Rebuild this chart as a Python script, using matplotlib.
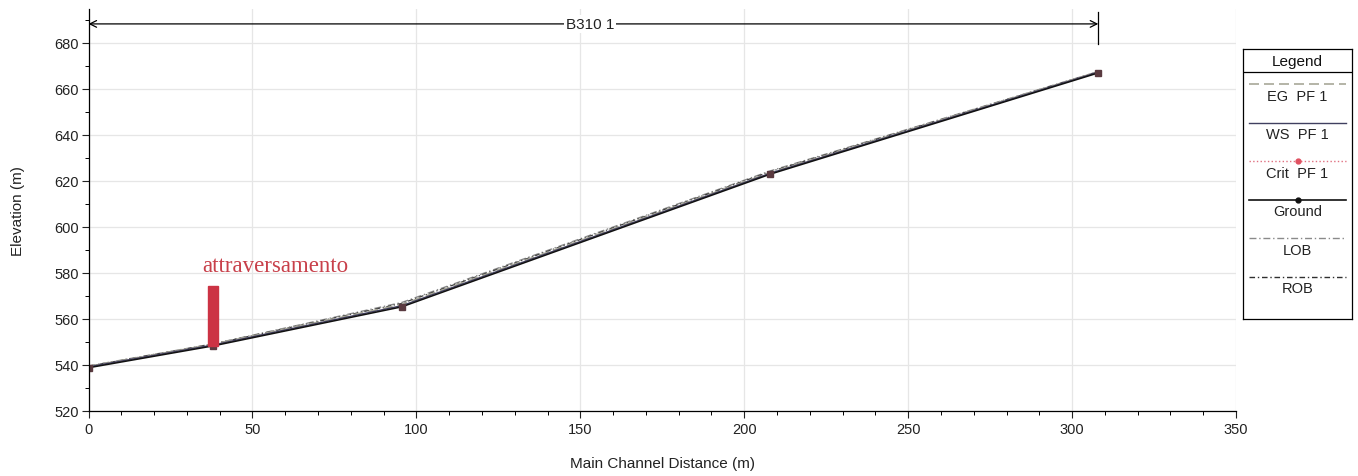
import matplotlib
matplotlib.use("Agg")
import matplotlib.pyplot as plt
from matplotlib.ticker import MultipleLocator

# Longitudinal profile data (reach B310, river 1)
station = [0.0, 38.0, 95.6, 208.0, 308.0]
ground = [538.8, 548.3, 565.3, 623.0, 667.0]
ws_pf1 = [539.2, 548.7, 565.8, 623.4, 667.3]
eg_pf1 = [539.4, 549.0, 566.3, 623.7, 667.5]
crit_pf1 = [539.1, 548.6, 565.6, 623.3, 667.2]
lob = [539.6, 549.2, 567.2, 624.4, 667.6]
rob = [539.5, 549.1, 566.8, 624.1, 667.5]

crossing_station = 38.0
crossing_top = 574.5
crossing_label = "attraversamento"
reach_label = "B310 1"
legend_labels = ["EG  PF 1", "WS  PF 1", "Crit  PF 1", "Ground", "LOB", "ROB"]

W, H = 1358, 477
fig = plt.figure(figsize=(W / 100, H / 100), dpi=100)
plt.rcParams['font.family'] = ['Liberation Sans', 'DejaVu Sans']

ax = fig.add_axes([88.5 / W, 1 - 412 / H, (1236 - 88.5) / W, (412 - 9.5) / H])
ax.set_xlim(0, 350)
ax.set_ylim(520, 695)

for s in ('top', 'right'):
    ax.spines[s].set_visible(False)
for s in ('left', 'bottom'):
    ax.spines[s].set_linewidth(0.9)

ax.xaxis.set_major_locator(MultipleLocator(50))
ax.xaxis.set_minor_locator(MultipleLocator(10))
ax.set_yticks(range(520, 681, 20))
ax.yaxis.set_minor_locator(MultipleLocator(10))
ax.tick_params(which='major', direction='out', length=5, width=0.8,
               labelsize=10.5, colors='#222222')
ax.tick_params(axis='y', which='major', pad=2)
ax.tick_params(axis='x', which='major', pad=3)
ax.tick_params(which='minor', direction='out', length=3, width=0.7)
ax.grid(True, which='major', color='#e6e6e6', lw=0.9)
ax.set_axisbelow(True)

ax.set_xlabel("Main Channel Distance (m)", fontsize=11, color='#222222', labelpad=14)
ax.set_ylabel("Elevation (m)", fontsize=11, color='#222222', labelpad=21)

# Profile lines
ax.plot(station, lob, color='#8a8a8a', lw=1.0, ls=(0, (5, 2, 1, 2)))
ax.plot(station, rob, color='#404040', lw=0.9, ls=(0, (4, 2, 1, 2)))
ax.plot(station, eg_pf1, color='#a8a898', lw=1.2, ls=(0, (6, 3)))
ax.plot(station, crit_pf1, color='#e07080', lw=0.9, ls=':')
ax.plot(station, ws_pf1, color='#404060', lw=1.0)
ax.plot(station, ground, color='#111111', lw=1.1)
ax.plot(station, ground, ls='none', marker='s', ms=4, color='#5a3a40')

# Crossing marker
ax.bar(crossing_station, crossing_top - ground[1], bottom=ground[1], width=3.3,
       color='#cc3344', edgecolor='#cc3344', zorder=4)
ax.text(57, 580.9, crossing_label, family=['Liberation Serif', 'DejaVu Serif'],
        fontsize=16.5, color='#c8404a', ha='center', va='baseline')

# Reach extent indicator
y_arrow = 688.3
ax.annotate('', xy=(0, y_arrow), xytext=(station[-1], y_arrow),
            arrowprops=dict(arrowstyle='<->', color='black', lw=0.9,
                            shrinkA=0, shrinkB=0, mutation_scale=12),
            annotation_clip=False)
ax.plot([station[-1], station[-1]], [679.5, 693.5], color='black', lw=0.9, clip_on=False)
ax.text(153, y_arrow, reach_label, fontsize=11, ha='center', va='center',
        color='#222222', bbox=dict(facecolor='white', edgecolor='none', pad=1.5))

# Legend panel
lg = fig.add_axes([1243 / W, 1 - 320 / H, (1352 - 1243) / W, (320 - 50) / H])
lg.set_xlim(0, 109)
lg.set_ylim(270, 0)
lg.set_xticks([])
lg.set_yticks([])
for s in lg.spines.values():
    s.set_linewidth(0.9)
lg.text(54.5, 12, "Legend", ha='center', va='center', fontsize=11,
        fontweight='medium', color='#111111')
lg.plot([0, 109], [23, 23], color='black', lw=0.9)

styles = [
    dict(color='#a8a898', ls=(0, (6, 3)), lw=1.2),
    dict(color='#404060', ls='-', lw=1.0),
    dict(color='#e07080', ls=':', lw=1.0),
    dict(color='#111111', ls='-', lw=1.2),
    dict(color='#8a8a8a', ls=(0, (5, 2, 1, 2)), lw=1.0),
    dict(color='#303030', ls=(0, (4, 2, 1, 2)), lw=1.0),
]
markers = [None, None, '#e05060', '#111111', None, None]
for i, (lab, st, mk) in enumerate(zip(legend_labels, styles, markers)):
    yl = 35 + i * 38.5
    lg.plot([6, 103], [yl, yl], **st)
    if mk:
        lg.plot([54.5], [yl], marker='o', ms=3.5, color=mk)
    lg.text(54.5, yl + 12, lab, ha='center', va='center', fontsize=10.5, color='#222222')

fig.savefig("out.png", dpi=100)
